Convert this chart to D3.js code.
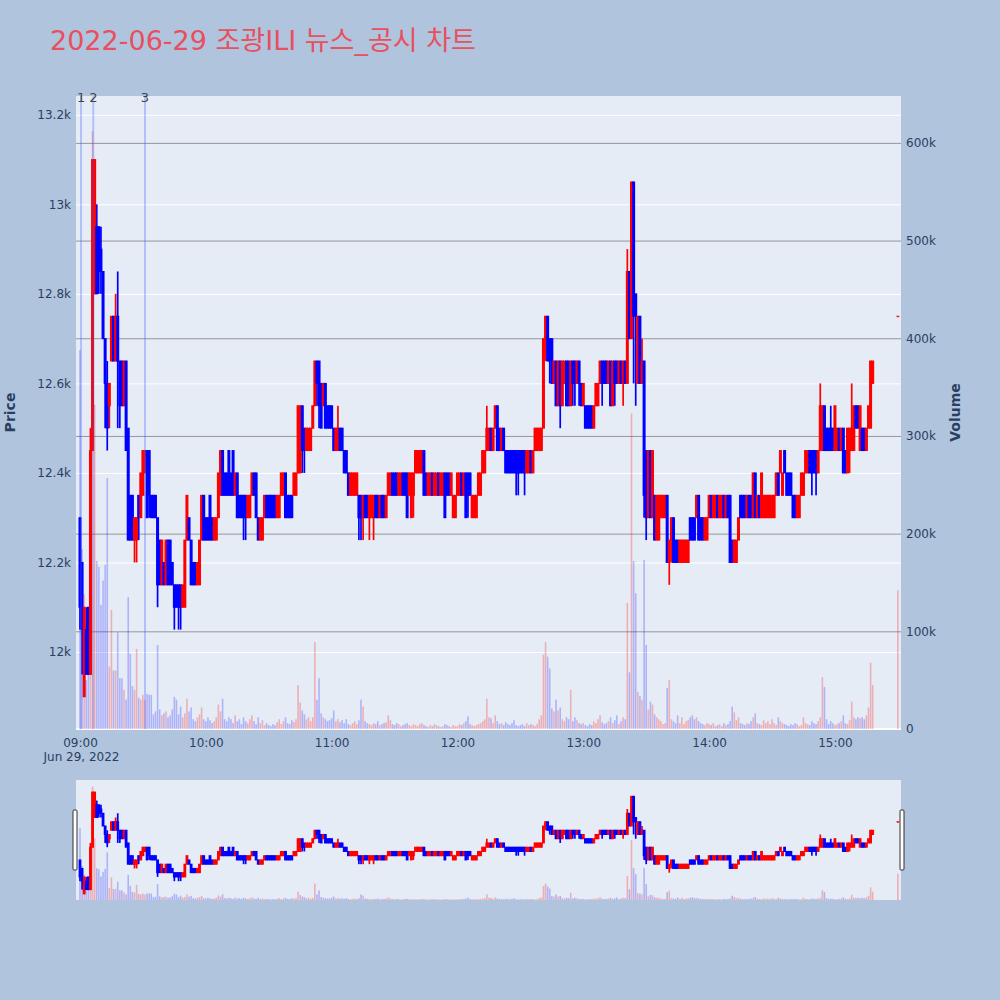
<!DOCTYPE html>
<html><head><meta charset="utf-8">
<script src="https://cdn.jsdelivr.net/npm/d3@7"></script>
<style>
body{margin:0;background:#b0c4de;}
svg{display:block;font-family:"DejaVu Sans","Noto Sans CJK KR",sans-serif;}
</style></head>
<body><svg id="chart" width="1000" height="1000"></svg>
<script>
// ---------------- data ----------------
const chartTitle = "2022-06-29 조광ILI 뉴스_공시 차트";
const firstCandleTime = "2022-06-29T09:00:00";   // one candle per minute from here
const opens = [
12300,12200,11900,12050,12100,11950,12450,12800,12950,12950,
12900,12850,12700,12600,12550,12650,12750,12650,12750,12650,
12650,12550,12650,12500,12350,12350,12250,12250,12350,12300,
12350,12400,12450,12450,12350,12350,12350,12300,12250,12150,
12200,12150,12250,12250,12200,12150,12150,12150,12150,12100,
12100,12250,12300,12250,12200,12200,12150,12150,12250,12350,
12300,12300,12350,12300,12250,12250,12300,12350,12450,12400,
12400,12450,12400,12450,12350,12400,12350,12350,12350,12350,
12300,12300,12350,12400,12400,12300,12250,12250,12300,12350,
12350,12350,12350,12350,12300,12300,12350,12350,12400,12350,
12350,12350,12350,12350,12400,12400,12550,12500,12450,12450,
12450,12500,12550,12650,12650,12600,12550,12600,12550,12550,
12550,12500,12450,12450,12500,12500,12450,12450,12400,12350,
12350,12350,12350,12350,12350,12300,12350,12350,12300,12300,
12300,12350,12350,12300,12350,12350,12300,12350,12350,12400,
12400,12400,12350,12350,12400,12400,12400,12350,12300,12350,
12400,12400,12400,12400,12450,12400,12350,12350,12400,12350,
12350,12400,12350,12350,12400,12400,12400,12350,12300,12300,
12350,12350,12400,12350,12400,12400,12400,12300,12300,12300,
12350,12350,12400,12400,12450,12450,12500,12450,12500,12550,
12500,12450,12500,12450,12450,12450,12450,12450,12450,12450,
12450,12450,12450,12400,12400,12450,12400,12450,12450,12450,
12450,12500,12700,12750,12700,12700,12600,12650,12550,12650,
12550,12600,12650,12650,12550,12650,12650,12600,12650,12600,
12550,12550,12550,12550,12550,12500,12550,12550,12600,12650,
12650,12650,12600,12650,12550,12650,12650,12600,12650,12600,
12650,12600,12850,12700,13050,12800,12600,12750,12600,12650,
12450,12300,12450,12300,12350,12250,12250,12300,12300,12300,
12350,12200,12250,12300,12250,12250,12200,12200,12200,12200,
12200,12300,12300,12300,12300,12350,12300,12300,12250,12250,
12300,12350,12300,12300,12350,12300,12300,12350,12300,12350,
12350,12250,12200,12200,12250,12350,12350,12350,12300,12350,
12350,12300,12400,12300,12350,12300,12300,12300,12300,12300,
12300,12300,12350,12400,12400,12350,12450,12400,12400,12400,
12350,12350,12300,12300,12350,12350,12400,12400,12450,12450,
12450,12450,12400,12450,12450,12550,12500,12500,12500,12500,
12450,12450,12500,12450,12500,12450,12400,12450,12450,12450,
12550,12550,12450,12500,12500,12450,12500,12500,12600];
const highs = [
12300,12200,12100,12100,12100,12500,13100,13100,13000,12950,
12950,12850,12700,12650,12600,12750,12750,12800,12850,12650,
12650,12650,12650,12500,12350,12350,12300,12300,12350,12400,
12450,12450,12450,12450,12350,12350,12350,12300,12250,12250,
12200,12250,12250,12250,12200,12150,12150,12150,12150,12150,
12250,12350,12300,12250,12200,12200,12200,12250,12350,12350,
12300,12300,12350,12300,12300,12300,12400,12450,12450,12400,
12400,12450,12400,12450,12400,12400,12350,12350,12350,12350,
12350,12350,12400,12400,12400,12300,12300,12300,12350,12350,
12350,12350,12350,12350,12350,12350,12400,12400,12400,12350,
12350,12350,12400,12400,12550,12550,12550,12500,12500,12500,
12500,12550,12650,12650,12650,12600,12600,12600,12550,12550,
12550,12500,12500,12550,12500,12500,12450,12450,12400,12400,
12400,12400,12400,12350,12350,12350,12350,12350,12350,12350,
12350,12350,12350,12350,12350,12350,12350,12400,12400,12400,
12400,12400,12400,12400,12400,12400,12400,12400,12400,12400,
12450,12450,12450,12450,12450,12400,12400,12400,12400,12400,
12400,12400,12400,12400,12400,12400,12400,12400,12350,12350,
12400,12400,12400,12400,12400,12400,12400,12350,12350,12350,
12400,12400,12450,12450,12550,12500,12500,12500,12550,12550,
12500,12500,12500,12450,12450,12450,12450,12450,12450,12450,
12450,12450,12450,12450,12450,12450,12450,12500,12500,12500,
12500,12700,12750,12750,12700,12700,12650,12650,12650,12650,
12650,12650,12650,12650,12650,12650,12650,12650,12650,12600,
12600,12550,12550,12550,12550,12550,12600,12600,12650,12650,
12650,12650,12650,12650,12650,12650,12650,12650,12650,12650,
12650,12900,12850,13050,13050,12800,12750,12750,12700,12650,
12450,12450,12450,12450,12350,12350,12350,12350,12350,12350,
12350,12250,12300,12300,12250,12250,12250,12250,12250,12250,
12250,12300,12300,12300,12350,12350,12300,12300,12300,12300,
12350,12350,12350,12350,12350,12350,12350,12350,12350,12350,
12350,12250,12250,12250,12300,12350,12350,12350,12350,12350,
12350,12400,12400,12350,12350,12400,12350,12350,12350,12350,
12350,12350,12400,12400,12450,12400,12450,12400,12400,12400,
12350,12350,12350,12350,12400,12400,12450,12450,12450,12450,
12450,12450,12450,12600,12550,12550,12500,12500,12550,12500,
12550,12500,12500,12500,12500,12450,12500,12500,12600,12550,
12550,12550,12550,12500,12500,12500,12550,12650,12650];
const lows = [
12050,11950,11900,11950,11950,11950,12450,12800,12800,12800,
12800,12700,12500,12450,12500,12650,12650,12650,12500,12500,
12550,12550,12450,12250,12250,12250,12200,12200,12250,12300,
12350,12400,12300,12300,12300,12300,12300,12100,12150,12150,
12150,12150,12150,12150,12150,12050,12100,12050,12050,12100,
12100,12250,12250,12150,12150,12150,12150,12150,12250,12250,
12250,12250,12250,12250,12250,12250,12300,12350,12350,12350,
12350,12350,12350,12350,12350,12300,12300,12300,12250,12250,
12300,12300,12350,12350,12300,12250,12250,12250,12300,12300,
12300,12300,12300,12300,12300,12300,12350,12350,12300,12300,
12300,12300,12350,12350,12400,12400,12400,12400,12450,12450,
12450,12500,12550,12550,12500,12500,12550,12500,12500,12500,
12500,12450,12450,12450,12450,12450,12400,12400,12350,12350,
12350,12350,12350,12250,12250,12250,12300,12300,12250,12300,
12250,12300,12300,12300,12300,12300,12300,12350,12350,12350,
12350,12350,12350,12350,12350,12350,12300,12350,12300,12300,
12400,12400,12400,12400,12350,12350,12350,12350,12350,12350,
12350,12350,12350,12350,12300,12350,12350,12350,12300,12300,
12350,12350,12350,12350,12300,12300,12350,12300,12300,12300,
12350,12350,12400,12400,12450,12450,12450,12450,12500,12450,
12450,12450,12450,12400,12400,12400,12400,12400,12350,12350,
12400,12400,12350,12400,12400,12400,12400,12450,12450,12450,
12450,12500,12650,12650,12600,12600,12600,12550,12550,12500,
12550,12600,12550,12550,12550,12550,12550,12600,12550,12550,
12550,12500,12500,12500,12500,12500,12550,12550,12600,12550,
12600,12600,12600,12550,12550,12550,12600,12600,12600,12550,
12600,12600,12700,12700,12600,12550,12600,12600,12600,12300,
12250,12300,12300,12300,12250,12250,12250,12300,12300,12300,
12200,12150,12200,12200,12200,12200,12200,12200,12200,12200,
12200,12250,12250,12250,12300,12250,12250,12250,12250,12250,
12300,12300,12300,12300,12300,12300,12300,12300,12300,12300,
12200,12200,12200,12200,12250,12300,12300,12300,12300,12300,
12300,12300,12300,12300,12300,12300,12300,12300,12300,12300,
12300,12300,12350,12350,12400,12350,12400,12350,12350,12350,
12300,12300,12300,12300,12350,12350,12400,12400,12400,12350,
12400,12350,12400,12450,12450,12450,12450,12450,12450,12450,
12450,12450,12450,12450,12400,12400,12400,12400,12450,12450,
12500,12500,12450,12450,12450,12450,12500,12500,12600];
const closes = [
12100,12050,12100,11950,11950,12450,13100,13100,12800,12850,
12850,12700,12600,12500,12600,12750,12650,12750,12650,12550,
12550,12650,12450,12250,12250,12250,12300,12300,12300,12400,
12450,12450,12300,12350,12300,12300,12300,12150,12150,12250,
12150,12250,12150,12150,12150,12100,12100,12100,12100,12150,
12250,12350,12250,12150,12150,12150,12200,12250,12350,12250,
12250,12250,12250,12250,12300,12300,12400,12450,12350,12350,
12350,12350,12350,12350,12400,12300,12300,12300,12300,12300,
12350,12350,12400,12350,12300,12250,12300,12300,12350,12300,
12300,12300,12300,12300,12350,12350,12400,12400,12300,12300,
12300,12300,12400,12400,12550,12550,12450,12450,12500,12500,
12500,12550,12650,12600,12550,12500,12600,12500,12500,12500,
12500,12450,12500,12500,12450,12450,12400,12400,12350,12400,
12400,12400,12400,12300,12300,12350,12300,12300,12350,12350,
12350,12300,12300,12350,12300,12300,12350,12400,12400,12350,
12350,12350,12400,12400,12350,12350,12300,12400,12400,12400,
12450,12450,12450,12450,12350,12350,12400,12400,12350,12400,
12400,12350,12400,12400,12300,12350,12350,12400,12350,12350,
12400,12400,12350,12400,12300,12350,12350,12350,12350,12350,
12400,12400,12450,12450,12500,12500,12450,12500,12550,12450,
12450,12500,12450,12400,12400,12400,12400,12400,12400,12400,
12400,12400,12400,12450,12450,12400,12450,12500,12500,12500,
12500,12700,12750,12650,12650,12600,12650,12550,12650,12550,
12650,12650,12550,12550,12650,12600,12600,12650,12600,12550,
12600,12500,12500,12500,12500,12550,12600,12600,12650,12600,
12600,12600,12650,12550,12650,12600,12600,12650,12600,12650,
12600,12850,12700,13050,12750,12750,12750,12600,12650,12350,
12300,12450,12300,12450,12250,12350,12350,12350,12350,12350,
12200,12250,12300,12200,12200,12200,12250,12250,12250,12250,
12250,12250,12250,12250,12350,12250,12250,12250,12300,12300,
12350,12300,12350,12350,12300,12350,12350,12300,12350,12300,
12200,12200,12250,12250,12300,12300,12300,12300,12350,12300,
12300,12400,12300,12350,12300,12400,12350,12350,12350,12350,
12350,12350,12400,12350,12450,12400,12400,12350,12350,12350,
12300,12300,12350,12350,12400,12400,12450,12450,12400,12400,
12400,12400,12450,12550,12550,12450,12450,12450,12450,12450,
12550,12500,12450,12500,12400,12400,12500,12500,12500,12550,
12500,12500,12550,12450,12450,12500,12550,12650,12650];
// volume per minute, in thousands of shares
const volumesK = [
388,184,138,50,70,309,612,332,172,166,
127,152,168,257,64,122,60,60,99,52,
52,40,30,135,77,44,40,82,32,30,
35,30,36,35,35,15,18,86,20,14,
16,18,12,14,20,33,30,15,23,12,
16,31,18,22,10,8,12,15,22,10,
8,12,9,6,8,12,25,18,31,10,
8,12,10,6,14,8,10,5,12,8,
6,10,14,8,5,12,6,9,4,6,
4,3,5,4,7,10,5,8,12,6,
5,9,7,10,45,27,19,15,10,12,
8,12,89,30,52,16,12,10,8,9,
11,19,8,10,7,9,6,10,5,4,
6,8,5,9,30,23,8,6,5,4,
6,5,8,4,5,6,7,14,9,5,
4,6,5,3,4,5,6,4,3,5,
4,3,5,6,4,3,2,4,3,5,
4,3,2,3,5,4,3,2,4,3,
3,5,4,6,8,13,5,4,3,4,
5,6,8,10,31,12,11,6,14,8,
5,6,4,7,5,4,6,9,4,3,
4,5,3,6,4,5,4,3,5,10,
14,76,89,74,62,21,18,30,19,22,
10,8,12,10,40,8,12,9,6,5,
6,4,3,5,4,8,6,10,14,7,
5,6,8,12,6,9,14,5,8,12,
10,129,58,323,172,139,38,34,30,173,
86,20,28,25,15,12,10,8,5,6,
42,50,10,8,6,14,6,12,5,8,
9,12,14,10,12,8,6,5,4,6,
5,4,6,3,4,5,3,6,4,5,
8,23,17,9,12,6,5,4,6,5,
8,12,16,6,5,4,9,6,8,5,
10,6,4,12,8,6,5,4,3,5,
4,6,5,3,4,12,6,5,4,8,
6,5,8,12,53,43,10,5,8,6,
4,5,6,8,14,6,5,9,28,12,
10,12,11,12,10,14,22,68,45];
// closing auction print
const auctionTime = "2022-06-29T15:30:00";
const auctionOHLC = [12750,12750,12750,12750];
const auctionVolumeK = 142;
// news / disclosure markers
const newsTimes = ["2022-06-29T09:00:30","2022-06-29T09:06:20","2022-06-29T09:31:00"];
const newsLabels = ["1","2","3"];
// axes
const xDomain = ["2022-06-29T08:58:06","2022-06-29T15:31:30"];
const priceDomain = [11828, 13242];
const volumeDomain = [0, 648000];
const priceTicks = [12000,12200,12400,12600,12800,13000,13200];
const volumeTicks = [0,100000,200000,300000,400000,500000,600000];
const hourTicks = ["2022-06-29T09:00:00","2022-06-29T10:00:00","2022-06-29T11:00:00","2022-06-29T12:00:00","2022-06-29T13:00:00","2022-06-29T14:00:00","2022-06-29T15:00:00"];
const dateLabel = "Jun 29, 2022";

// ---------------- build ----------------
const parse = d3.timeParse("%Y-%m-%dT%H:%M:%S");
const t0 = parse(firstCandleTime);
const candles = opens.map((o, i) => ({
  t: d3.timeMinute.offset(t0, i), o, h: highs[i], l: lows[i], c: closes[i], v: volumesK[i] * 1000
}));
candles.push({t: parse(auctionTime), o: auctionOHLC[0], h: auctionOHLC[1], l: auctionOHLC[2], c: auctionOHLC[3], v: auctionVolumeK * 1000});
candles.forEach(d => d.up = d.c >= d.o);

const P = {l: 76, r: 901, t: 96, b: 729};
const S = {t: 780, b: 900};
const RED = "#ff0000", BLUE = "#0000ff";
const textCol = "#2a3f5f";

const svg = d3.select("#chart");
const x = d3.scaleTime().domain(xDomain.map(parse)).range([P.l, P.r]);
const yP = d3.scaleLinear().domain(priceDomain).range([P.b, P.t]);
const yV = d3.scaleLinear().domain(volumeDomain).range([P.b, P.t]);
const ySP = d3.scaleLinear().domain(priceDomain).range([S.b, S.t]);
const ySV = d3.scaleLinear().domain(volumeDomain).range([S.b, S.t]);

// title
svg.append("text").attr("x", 50).attr("y", 50).attr("font-size", 27).attr("fill", "#e8505f").text(chartTitle);

// plot background
svg.append("rect").attr("x", P.l).attr("y", P.t).attr("width", P.r - P.l).attr("height", P.b - P.t).attr("fill", "#e5ecf6");

const defs = svg.append("defs");
defs.append("clipPath").attr("id", "clipMain").append("rect").attr("x", P.l).attr("y", P.t).attr("width", P.r - P.l).attr("height", P.b - P.t);
defs.append("clipPath").attr("id", "clipSlider").append("rect").attr("x", P.l).attr("y", S.t).attr("width", P.r - P.l).attr("height", S.b - S.t);

// price grid (white)
svg.append("g").attr("transform", `translate(${P.l},0)`)
  .call(d3.axisLeft(yP).tickValues(priceTicks).tickSize(-(P.r - P.l)).tickFormat(""))
  .call(g => g.select(".domain").remove())
  .call(g => g.selectAll("line").attr("stroke", "#fff").attr("stroke-width", 1));
// volume grid (gray)
svg.append("g").attr("transform", `translate(${P.r},0)`)
  .call(d3.axisRight(yV).tickValues(volumeTicks.filter(v => v > 0)).tickSize(-(P.r - P.l)).tickFormat(""))
  .call(g => g.select(".domain").remove())
  .call(g => g.selectAll("line").attr("stroke", "#969696").attr("stroke-width", 1));
// volume zero line
svg.append("line").attr("x1", P.l).attr("x2", P.r).attr("y1", yV(0)).attr("y2", yV(0)).attr("stroke", "#fff").attr("stroke-width", 2);

function drawCandles(g, xs, ys, bodyW, wickW) {
  g.append("g").selectAll("rect").data(candles).join("rect")
    .attr("x", d => xs(d.t) - wickW / 2).attr("width", wickW)
    .attr("y", d => ys(d.h)).attr("height", d => Math.max(ys(d.l) - ys(d.h), 1))
    .attr("fill", d => d.up ? RED : BLUE);
  g.append("g").selectAll("rect").data(candles).join("rect")
    .attr("x", d => xs(d.t) - bodyW / 2).attr("width", bodyW)
    .attr("y", d => ys(Math.max(d.o, d.c)) - 0.5)
    .attr("height", d => Math.max(Math.abs(ys(d.o) - ys(d.c)), 0) + 1)
    .attr("fill", d => d.up ? RED : BLUE);
}
function drawVolume(g, xs, ys, barW) {
  g.selectAll("rect").data(candles).join("rect")
    .attr("x", d => xs(d.t) - barW / 2).attr("width", barW)
    .attr("y", d => ys(d.v)).attr("height", d => ys(0) - ys(d.v))
    .attr("fill", d => d.up ? "rgba(255,0,0,0.26)" : "rgba(0,0,255,0.24)");
}

const main = svg.append("g").attr("clip-path", "url(#clipMain)");
drawCandles(main.append("g"), x, yP, 3, 1.7);
drawVolume(main.append("g"), x, yV, 1.6);

// news markers
const news = newsTimes.map((t, i) => ({t: parse(t), label: newsLabels[i]}));
main.append("g").selectAll("line").data(news).join("line")
  .attr("x1", d => x(d.t)).attr("x2", d => x(d.t)).attr("y1", P.t).attr("y2", P.b)
  .attr("stroke", "rgba(60,90,255,0.3)").attr("stroke-width", 2);
svg.append("g").selectAll("text").data(news).join("text")
  .attr("x", d => x(d.t)).attr("y", 101.5).attr("text-anchor", "middle")
  .attr("font-size", 13).attr("fill", "#444").text(d => d.label);

// axes labels
const fmtK = d3.format("~s");
svg.append("g").attr("transform", `translate(${P.l},0)`)
  .call(d3.axisLeft(yP).tickValues(priceTicks).tickSize(0).tickPadding(5).tickFormat(fmtK))
  .call(g => g.select(".domain").remove())
  .call(g => g.selectAll("text").attr("font-size", 12).attr("fill", textCol).attr("font-family", "DejaVu Sans"));
svg.append("g").attr("transform", `translate(${P.r},0)`)
  .call(d3.axisRight(yV).tickValues(volumeTicks).tickSize(0).tickPadding(5).tickFormat(fmtK))
  .call(g => g.select(".domain").remove())
  .call(g => g.selectAll("text").attr("font-size", 12).attr("fill", textCol).attr("font-family", "DejaVu Sans"));
const xAxisG = svg.append("g").attr("transform", `translate(0,${P.b})`)
  .call(d3.axisBottom(x).tickValues(hourTicks.map(parse)).tickSize(0).tickPadding(9.5).tickFormat(d3.timeFormat("%H:%M")))
  .call(g => g.select(".domain").remove())
  .call(g => g.selectAll("text").attr("font-size", 12).attr("fill", textCol).attr("font-family", "DejaVu Sans"));
xAxisG.select(".tick text").append("tspan").attr("x", 1).attr("dy", "1.2em").text(dateLabel);

svg.append("text").attr("transform", `translate(15,${(P.t + P.b) / 2}) rotate(-90)`)
  .attr("text-anchor", "middle").attr("font-size", 14).attr("font-weight", "bold").attr("fill", textCol).text("Price");
svg.append("text").attr("transform", `translate(960,${(P.t + P.b) / 2}) rotate(-90)`)
  .attr("text-anchor", "middle").attr("font-size", 14).attr("font-weight", "bold").attr("fill", textCol).text("Volume");

// range slider
svg.append("rect").attr("x", P.l).attr("y", S.t).attr("width", P.r - P.l).attr("height", S.b - S.t).attr("fill", "#e5ecf6");
const sl = svg.append("g").attr("clip-path", "url(#clipSlider)");
drawCandles(sl.append("g"), x, ySP, 2.8, 1.7);
drawVolume(sl.append("g"), x, ySV, 1.6);
[P.l - 1.5, P.r + 0.5].forEach(hx => {
  svg.append("rect").attr("x", hx - 1.5).attr("y", 810).attr("width", 4).attr("height", 60)
    .attr("rx", 1).attr("fill", "#fff").attr("stroke", "#333").attr("stroke-width", 1);
});
</script></body></html>
